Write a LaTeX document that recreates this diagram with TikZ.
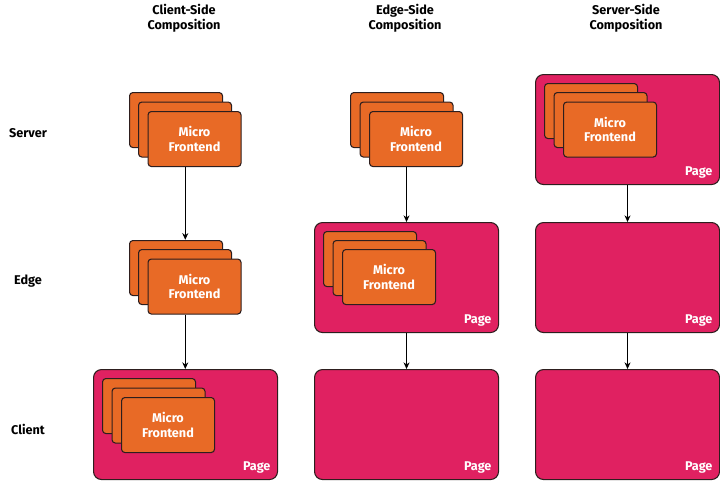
\documentclass[tikz,border=0pt]{standalone}
\usepackage{fontspec}
\setmainfont{Fira Sans}
\usetikzlibrary{arrows.meta,fit}
\definecolor{mforange}{RGB}{232,106,38}
\definecolor{pagepink}{RGB}{224,33,97}
\definecolor{edgedark}{RGB}{45,30,30}
\begin{document}
\begin{tikzpicture}[x=0.75pt,y=-0.75pt,
  card/.style={draw=edgedark,line width=0.8pt,fill=mforange,rounded corners=2.5pt,
    minimum width=69.75pt,minimum height=41.25pt,inner sep=0pt,anchor=north west,
    font=\bfseries\fontsize{9.5}{11}\selectfont,text=white,align=center},
  pagebox/.style={draw=edgedark,line width=0.8pt,fill=pagepink,rounded corners=6pt,
    minimum width=138pt,minimum height=82.5pt,inner sep=0pt,anchor=north west},
  pagelabel/.style={font=\bfseries\fontsize{9.5}{11}\selectfont,text=white,anchor=south east,inner sep=0pt},
  title/.style={font=\bfseries\fontsize{9.5}{11.5}\selectfont,align=center},
  rowlabel/.style={font=\bfseries\fontsize{9.5}{11}\selectfont},
  conn/.style={draw=black,line width=0.7pt,-{Stealth[length=5pt,width=4.5pt]}},
  stackfit/.style={inner sep=0pt,draw=none}
]
\useasboundingbox (0,0) rectangle (720,480);

% titles
\node[title] (t1) at (184,18) {Client-Side\\Composition};
\node[title] (t2) at (405,18) {Edge-Side\\Composition};
\node[title] (t3) at (626,18) {Server-Side\\Composition};

% row labels
\node[rowlabel] (r1) at (28,133) {Server};
\node[rowlabel] (r2) at (28,281) {Edge};
\node[rowlabel] (r3) at (28,429) {Client};

% pages
\node[pagebox] (p1c) at (93,369) {};
\node[pagebox] (p2e) at (314,222) {};
\node[pagebox] (p2c) at (314,369) {};
\node[pagebox] (p3s) at (535,74) {};
\node[pagebox] (p3e) at (535,222) {};
\node[pagebox] (p3c) at (535,369) {};

\foreach \p in {p1c,p2e,p2c,p3s,p3e,p3c}{
  \node[pagelabel] (\p l) at ([xshift=-5.5pt,yshift=5pt]\p.south east) {Page};
}

% column 1 server stack
\node[card] (a1) at (129,92) {};
\node[card] (a2) at (138,101.5) {};
\node[card] (a3) at (147.5,111) {Micro\\Frontend};
\node[stackfit,fit=(a1)(a3)] (s1) {};

% column 1 edge stack
\node[card] (b1) at (129,240) {};
\node[card] (b2) at (138,249) {};
\node[card] (b3) at (147.5,258.5) {Micro\\Frontend};
\node[stackfit,fit=(b1)(b3)] (s2) {};

% column 1 client stack
\node[card] (c1) at (102,378) {};
\node[card] (c2) at (111.5,387.5) {};
\node[card] (c3) at (121,397) {Micro\\Frontend};

% column 2 server stack
\node[card] (d1) at (350,92) {};
\node[card] (d2) at (359.5,101.5) {};
\node[card] (d3) at (369,111) {Micro\\Frontend};
\node[stackfit,fit=(d1)(d3)] (s3) {};

% column 2 edge stack
\node[card] (e1) at (323,231) {};
\node[card] (e2) at (332.5,240) {};
\node[card] (e3) at (342,249) {Micro\\Frontend};

% column 3 server stack
\node[card] (f1) at (544,83) {};
\node[card] (f2) at (553.5,92) {};
\node[card] (f3) at (563,101.5) {Micro\\Frontend};

% connectors
\draw[conn] (s1.south) -- (s2.north);
\draw[conn] (s2.south) -- (s2.south |- p1c.north);
\draw[conn] (s3.south) -- (s3.south |- p2e.north);
\draw[conn] (p2e.south) -- (p2c.north);
\draw[conn] (p3s.south) -- (p3e.north);
\draw[conn] (p3e.south) -- (p3c.north);
\end{tikzpicture}
\end{document}
